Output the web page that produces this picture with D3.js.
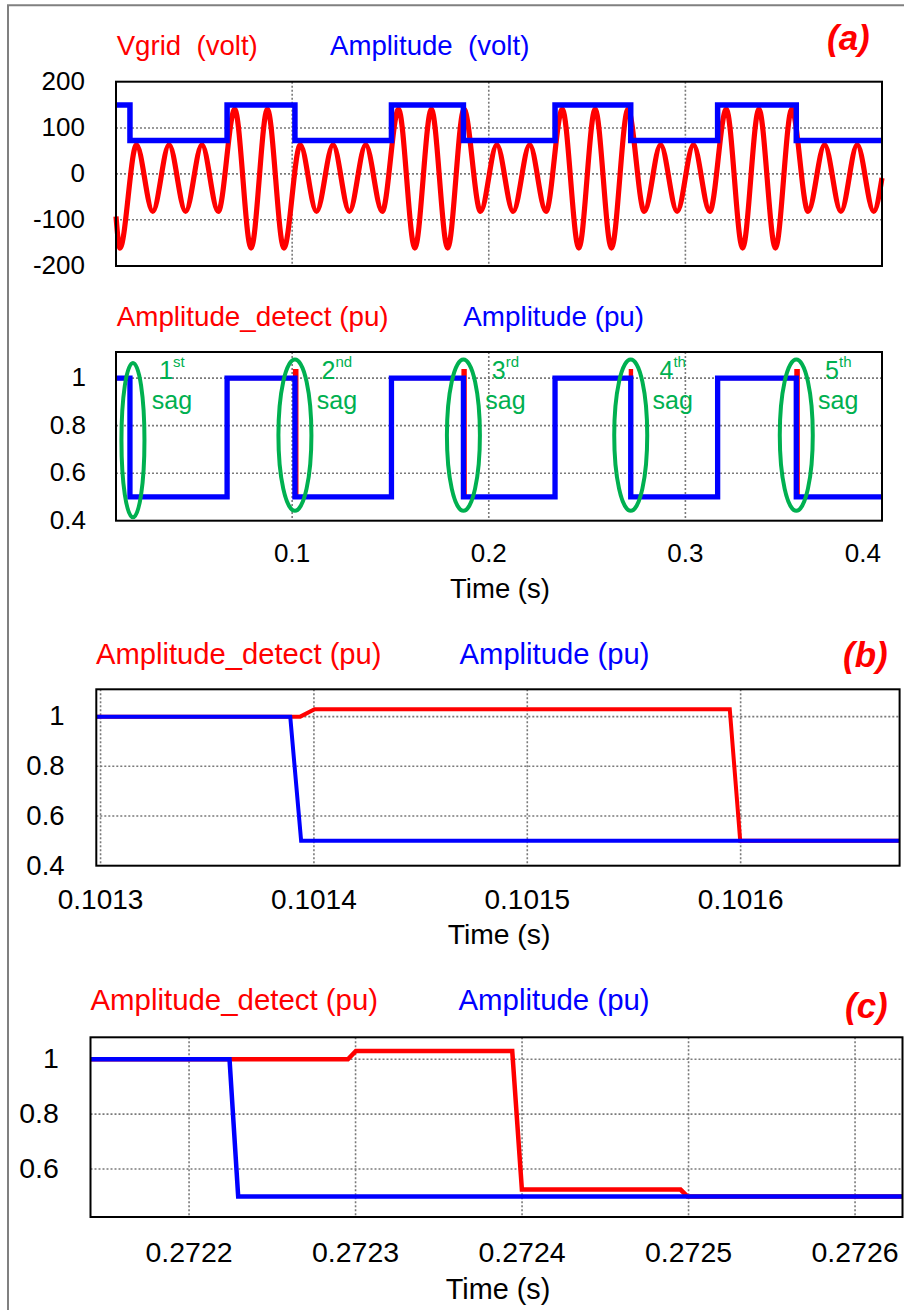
<!DOCTYPE html>
<html>
<head>
<meta charset="utf-8">
<script src="https://cdn.jsdelivr.net/npm/d3@7"></script>
<style>
  html, body { margin: 0; padding: 0; background: #fff; }
  svg { display: block; }
  text { font-family: "Liberation Sans", Arial, Helvetica, sans-serif; }
</style>
</head>
<body>
<svg id="chart" width="904" height="1310"></svg>
<script>
// ---------------- DATA ----------------
// Panel (a) top: Vgrid extrema (time s, volt)
const vgridTime = [0.0104, 0.0124, 0.0208, 0.0291, 0.0374, 0.0458, 0.0541, 0.0624, 0.0708, 0.0791,
                   0.0874, 0.0958, 0.1041, 0.1124, 0.1208, 0.1291, 0.1374, 0.1458, 0.1541, 0.1624,
                   0.1708, 0.1791, 0.1874, 0.1958, 0.2041, 0.2124, 0.2208, 0.2291, 0.2374, 0.2458,
                   0.2541, 0.2624, 0.2708, 0.2791, 0.2874, 0.2958, 0.3041, 0.3124, 0.3208, 0.3291,
                   0.3374, 0.3458, 0.3541, 0.3624, 0.3708, 0.3791, 0.3874, 0.3958, 0.4000];
const vgridVolt = [-93, -162, 63, -82, 63, -82, 63, -82, 141, -162,
                   141, -162, 63, -82, 63, -82, 63, -82, 141, -162,
                   141, -162, 141, -82, 63, -82, 63, -82, 141, -162,
                   141, -162, 141, -82, 63, -82, 63, -82, 141, -162,
                   141, -162, 141, -82, 63, -82, 63, -82, -9];

// Amplitude reference (step changes)
const ampTime = [0.0104, 0.0175, 0.0669, 0.1014, 0.1505, 0.1871, 0.2337, 0.2722, 0.3164, 0.3564, 0.4000];
const ampVolt = [150, 73, 150, 73, 150, 73, 150, 73, 150, 73, 73];
const ampPu   = [1, 0.5, 1, 0.5, 1, 0.5, 1, 0.5, 1, 0.5, 0.5];

// Amplitude_detect (pu), panel (a) bottom
const detTime = [0.0104, 0.0175, 0.0669, 0.1014, 0.1022, 0.1505, 0.1871, 0.1878, 0.2337, 0.2722, 0.2724, 0.3164, 0.3564, 0.3572, 0.4000];
const detPu   = [1, 0.5, 1, 1.03, 0.5, 1, 1.03, 0.5, 1, 1.03, 0.5, 1, 1.03, 0.5, 0.5];

// Sag events
const sagStart = [0.0175, 0.1014, 0.1871, 0.2722, 0.3564];
const sagNum   = ["1", "2", "3", "4", "5"];
const sagSup   = ["st", "nd", "rd", "th", "th"];

// Panel (b) zoom around 2nd sag
const bAmpTime = [0.101298, 0.1013889, 0.1013940, 0.1016745];
const bAmpPu   = [1, 1, 0.5, 0.5];
const bDetTime = [0.101298, 0.1013936, 0.1014003, 0.1015949, 0.1015998, 0.1016745];
const bDetPu   = [1, 1, 1.03, 1.03, 0.5, 0.5];

// Panel (c) zoom around 4th sag
const cAmpTime = [0.2721408, 0.2722243, 0.2722295, 0.2726285];
const cAmpPu   = [1, 1, 0.5, 0.5];
const cDetTime = [0.2721408, 0.2722954, 0.2723002, 0.2723941, 0.2723999, 0.2724952, 0.2724993, 0.2726285];
const cDetPu   = [1, 1, 1.03, 1.03, 0.525, 0.525, 0.5, 0.5];

// Ticks
const aVoltTicks = [200, 100, 0, -100, -200];
const aVoltGrid  = [100, 0, -100];
const aTimeTicks = [0.1, 0.2, 0.3, 0.4];
const aTimeLabels = ["0.1", "0.2", "0.3", "0.4"];
const puTicks    = [1, 0.8, 0.6, 0.4];
const puLabels   = ["1", "0.8", "0.6", "0.4"];
const puGrid     = [1, 0.8, 0.6];
const bTimeTicks = [0.1013, 0.1014, 0.1015, 0.1016];
const bTimeLabels = ["0.1013", "0.1014", "0.1015", "0.1016"];
const cTimeTicks = [0.2722, 0.2723, 0.2724, 0.2725, 0.2726];
const cTimeLabels = ["0.2722", "0.2723", "0.2724", "0.2725", "0.2726"];
const cPuTicks   = [1, 0.8, 0.6];
const cPuLabels  = ["1", "0.8", "0.6"];

// ---------------- DRAWING ----------------
const RED = "#ff0000", BLUE = "#0000ff", GREEN = "#00b050", GRID = "#7a7a7a";
const svg = d3.select("#chart");

// outer gray frame
svg.append("path").attr("d", "M8,1310 V5.3 H904")
  .attr("fill", "none").attr("stroke", "#808080").attr("stroke-width", 2);

function drawPanel(p) {
  const g = svg.append("g");
  const [x0, x1] = p.x.range();
  const [y0, y1] = p.y.range(); // y0 bottom, y1 top
  // grid
  g.selectAll(".gx").data(p.gridX).join("line")
    .attr("x1", d => p.x(d)).attr("x2", d => p.x(d))
    .attr("y1", y1).attr("y2", y0)
    .attr("stroke", GRID).attr("stroke-width", 1.6).attr("stroke-dasharray", "2,2");
  g.selectAll(".gy").data(p.gridY).join("line")
    .attr("x1", x0).attr("x2", x1)
    .attr("y1", d => p.y(d)).attr("y2", d => p.y(d))
    .attr("stroke", GRID).attr("stroke-width", 1.6).attr("stroke-dasharray", "2,2");
  // series
  p.series.forEach(s => {
    const line = d3.line().x(d => p.x(d[0])).y(d => p.y(d[1])).curve(s.curve);
    g.append("path").datum(d3.zip(s.t, s.v)).attr("d", line)
      .attr("fill", "none").attr("stroke", s.color).attr("stroke-width", s.width)
      .attr("stroke-linejoin", "miter").attr("stroke-linecap", "butt");
  });
  // box
  g.append("rect").attr("x", x0).attr("y", y1).attr("width", x1 - x0).attr("height", y0 - y1)
    .attr("fill", "none").attr("stroke", "#000").attr("stroke-width", 2);
  // y labels
  g.selectAll(".yl").data(p.yTicks).join("text")
    .attr("x", p.yLabelX).attr("y", d => p.y(d) + p.yFont * 0.32)
    .attr("text-anchor", "end").attr("font-size", p.yFont).attr("fill", "#000")
    .text((d, i) => p.yLabels[i]);
  // x labels
  if (p.xTicks) {
    g.selectAll(".xl").data(p.xTicks).join("text")
      .attr("x", (d, i) => (p.xEndLast && i === p.xTicks.length - 1) ? p.x(d) - 1 : p.x(d))
      .attr("y", p.xLabelY)
      .attr("text-anchor", (d, i) => (p.xEndLast && i === p.xTicks.length - 1) ? "end" : "middle")
      .attr("font-size", p.xFont).attr("fill", "#000")
      .text((d, i) => p.xLabels[i]);
  }
  return g;
}

function label(x, y, txt, color, size, extra) {
  const t = svg.append("text").attr("x", x).attr("y", y).attr("fill", color)
    .attr("font-size", size).style("white-space", "pre").text(txt);
  if (extra) extra(t);
  return t;
}
const boldItalic = t => t.attr("font-weight", "bold").attr("font-style", "italic");

// ---- Panel (a) top ----
const xA = d3.scaleLinear().domain([0.0104, 0.4]).range([116, 882]);
const yA1 = d3.scaleLinear().domain([-201, 201]).range([266, 81.7]);
drawPanel({
  x: xA, y: yA1, gridX: [0.1, 0.2, 0.3], gridY: aVoltGrid,
  series: [
    { t: vgridTime, v: vgridVolt, color: RED, width: 5.2, curve: d3.curveMonotoneX },
    { t: ampTime, v: ampVolt, color: BLUE, width: 5.5, curve: d3.curveStepAfter }
  ],
  yTicks: aVoltTicks, yLabels: aVoltTicks.map(String), yLabelX: 85, yFont: 26
});
label(116.7, 55, "Vgrid  (volt)", RED, 27.6);
label(330, 55, "Amplitude  (volt)", BLUE, 27.6);
label(827, 50, "(a)", RED, 35, boldItalic);

// ---- Panel (a) bottom ----
const yA2 = d3.scaleLinear().domain([0.4, 1.11]).range([520.7, 352]);
drawPanel({
  x: xA, y: yA2, gridX: [0.1, 0.2, 0.3], gridY: puGrid,
  series: [
    { t: detTime, v: detPu, color: RED, width: 4, curve: d3.curveStepAfter },
    { t: ampTime, v: ampPu, color: BLUE, width: 5.3, curve: d3.curveStepAfter }
  ],
  yTicks: puTicks, yLabels: puLabels, yLabelX: 86, yFont: 26,
  xTicks: aTimeTicks, xLabels: aTimeLabels, xLabelY: 561.5, xFont: 26, xEndLast: true
});
label(116.7, 326, "Amplitude_detect (pu)", RED, 27.8);
label(463.3, 326, "Amplitude (pu)", BLUE, 27.8);
label(500, 598, "Time (s)", "#000", 27.5, t => t.attr("text-anchor", "middle"));

// sag ellipses & labels
const sagG = svg.append("g");
sagStart.forEach((s, i) => {
  const first = i === 0;
  sagG.append("ellipse")
    .attr("cx", xA(s) + (first ? 3 : 0))
    .attr("cy", yA2(first ? 0.739 : 0.76))
    .attr("rx", first ? 11.5 : 16.5).attr("ry", first ? 77.2 : 75.7)
    .attr("fill", "none").attr("stroke", GREEN).attr("stroke-width", 4);
  const t = sagG.append("text").attr("x", xA(s) + 42).attr("y", 379)
    .attr("text-anchor", "middle").attr("fill", GREEN).attr("font-size", 25);
  t.append("tspan").text(sagNum[i]);
  t.append("tspan").attr("font-size", 15).attr("dy", -11.6).text(sagSup[i]);
  sagG.append("text").attr("x", xA(s) + 42).attr("y", 409)
    .attr("text-anchor", "middle").attr("fill", GREEN).attr("font-size", 25).text("sag");
});

// ---- Panel (b) ----
const xB = d3.scaleLinear().domain([0.101298, 0.1016745]).range([96.3, 899.6]);
const yB = d3.scaleLinear().domain([0.4, 1.11]).range([865.7, 689.3]);
drawPanel({
  x: xB, y: yB, gridX: bTimeTicks, gridY: puGrid,
  series: [
    { t: bDetTime, v: bDetPu, color: RED, width: 4, curve: d3.curveLinear },
    { t: bAmpTime, v: bAmpPu, color: BLUE, width: 4, curve: d3.curveLinear }
  ],
  yTicks: puTicks, yLabels: puLabels, yLabelX: 64.6, yFont: 27.5,
  xTicks: bTimeTicks, xLabels: bTimeLabels, xLabelY: 909, xFont: 28
});
label(96, 663.5, "Amplitude_detect (pu)", RED, 29.2);
label(459.6, 663.5, "Amplitude (pu)", BLUE, 29.2);
label(843, 667, "(b)", RED, 35, boldItalic);
label(499, 944, "Time (s)", "#000", 28.3, t => t.attr("text-anchor", "middle"));

// ---- Panel (c) ----
const xC = d3.scaleLinear().domain([0.2721408, 0.2726285]).range([90.5, 902.5]);
const yC = d3.scaleLinear().domain([0.425, 1.08]).range([1217, 1037.3]);
drawPanel({
  x: xC, y: yC, gridX: cTimeTicks, gridY: puGrid,
  series: [
    { t: cDetTime, v: cDetPu, color: RED, width: 4.5, curve: d3.curveLinear },
    { t: cAmpTime, v: cAmpPu, color: BLUE, width: 4.5, curve: d3.curveLinear }
  ],
  yTicks: cPuTicks, yLabels: cPuLabels, yLabelX: 58.8, yFont: 28.5,
  xTicks: cTimeTicks, xLabels: cTimeLabels, xLabelY: 1261.5, xFont: 28.5
});
label(90.5, 1010, "Amplitude_detect (pu)", RED, 29.4);
label(458.5, 1010, "Amplitude (pu)", BLUE, 29.4);
label(845, 1018, "(c)", RED, 35, boldItalic);
label(498, 1299, "Time (s)", "#000", 28.8, t => t.attr("text-anchor", "middle"));
</script>
</body>
</html>
